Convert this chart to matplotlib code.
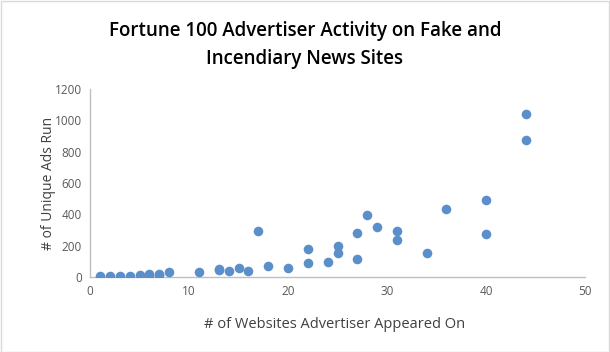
import matplotlib.pyplot as plt
from matplotlib.patches import Rectangle

# Số website mà nhà quảng cáo xuất hiện / số quảng cáo
websites = [1, 2, 3, 4, 5, 6, 6, 7, 7, 8, 11, 13, 13, 14, 15, 16, 17, 18, 20,
            22, 22, 24, 25, 25, 27, 27, 28, 29, 31, 31, 34, 36, 40, 40, 44, 44]
unique_ads = [4, 7, 7, 7, 10, 22, 6, 20, 12, 32, 32, 50, 45, 38, 58, 38, 296, 68, 56,
              88, 178, 96, 198, 152, 280, 114, 396, 320, 294, 236, 154, 434, 494, 276, 1038, 876]

x_ticks = [0, 10, 20, 30, 40, 50]
y_ticks = [0, 200, 400, 600, 800, 1000, 1200]

title = "Fortune 100 Advertiser Activity on Fake and\nIncendiary News Sites"
x_label = "# of Websites Advertiser Appeared On"
y_label = "# of Unique Ads Run"

plt.rcParams['font.family'] = ['Open Sans', 'DejaVu Sans']

fig = plt.figure(figsize=(6.1, 3.52), dpi=100)
ax = fig.add_axes([90 / 610, 1 - 277 / 352, 495 / 610, 188 / 352])

ax.scatter(websites, unique_ads, s=48, color="#5B8FC9", zorder=3, linewidths=0)

ax.set_xlim(0, 50)
ax.set_ylim(0, 1200)
ax.set_xticks(x_ticks)
ax.set_yticks(y_ticks)
ax.tick_params(length=0, labelsize=8.5, labelcolor="#595959", pad=6)

for side in ["top", "right"]:
    ax.spines[side].set_visible(False)
for side in ["left", "bottom"]:
    ax.spines[side].set_color("#BFBFBF")
    ax.spines[side].set_linewidth(1)

fig.text(0.5, 1 - 45 / 352, title, ha="center", va="center", fontsize=13.5,
         fontweight="semibold", color="black", linespacing=1.5)
fig.text(335 / 610, 1 - 325 / 352, x_label, ha="center", va="center",
         fontsize=10.5, color="#404040")
fig.text(48 / 610, 1 - 183 / 352, y_label, ha="center", va="center",
         rotation=90, fontsize=10, color="#404040")

# Viền khung biểu đồ
fig.patches.append(Rectangle((0.001, 0.001), 0.997, 0.996, transform=fig.transFigure,
                             fill=False, edgecolor="#D9D9D9", linewidth=1))

plt.savefig("out.png", dpi=100)
